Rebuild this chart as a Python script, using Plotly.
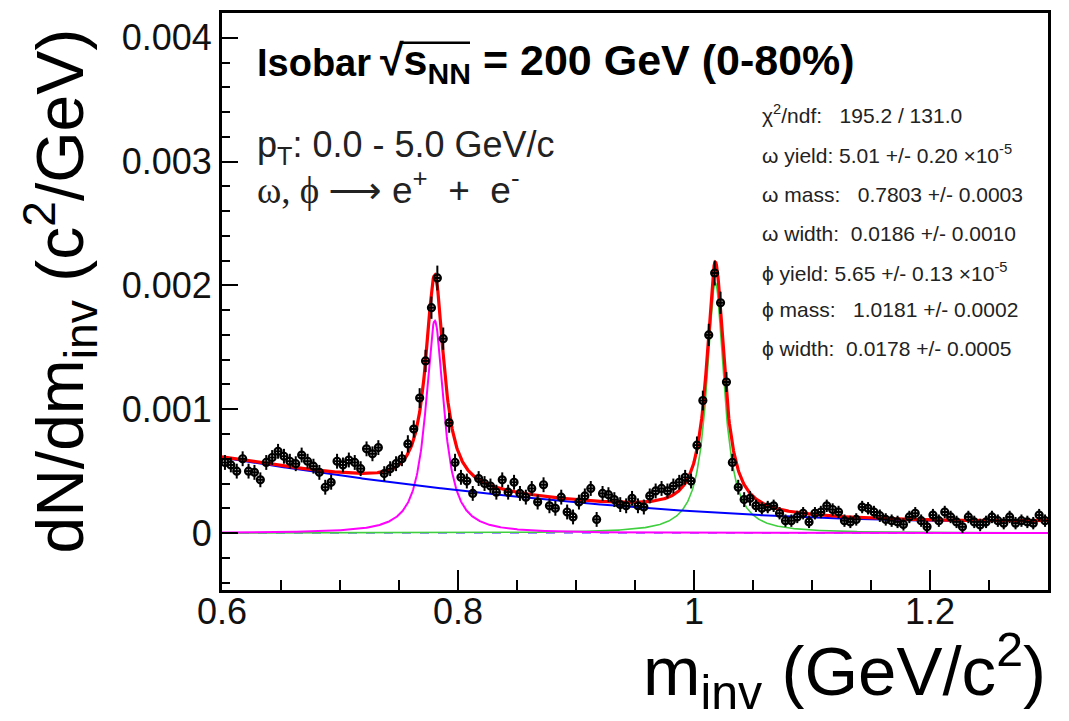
import numpy as np
import plotly.graph_objects as go

# ---------------- data ----------------
bin_low, bin_high, bin_width = 0.6, 1.3, 0.005
m_inv = np.arange(bin_low + bin_width / 2, bin_high, bin_width)

dndm = [
    0.00057, 0.00055, 0.00050, 0.00060, 0.00050, 0.00049, 0.00043, 0.00057, 0.00061, 0.00066,
    0.00062, 0.00058, 0.00056, 0.00063, 0.00058, 0.00054, 0.00049, 0.00037, 0.00041, 0.00058,
    0.00055, 0.00059, 0.00057, 0.00052, 0.00068, 0.00064, 0.00069, 0.00048, 0.00052, 0.00056,
    0.00060, 0.00072, 0.00084, 0.00109, 0.00139, 0.00182, 0.00206, 0.00157, 0.00089, 0.00057,
    0.00045, 0.00042, 0.00032, 0.00044, 0.00040, 0.00038, 0.00033, 0.00043, 0.00033, 0.00041,
    0.00032, 0.00029, 0.00036, 0.00025, 0.00039, 0.00022, 0.00020, 0.00029, 0.00017, 0.00013,
    0.00025, 0.00030, 0.00036, 0.00011, 0.00032, 0.00031, 0.00027, 0.00023, 0.00022, 0.00028,
    0.00022, 0.00021, 0.00030, 0.00034, 0.00036, 0.00034, 0.00038, 0.00041, 0.00045, 0.00042,
    0.00071, 0.00107, 0.00160, 0.00210, 0.00186, 0.00122, 0.00057, 0.00037, 0.00027, 0.00028,
    0.00022, 0.00020, 0.00021, 0.00022, 0.00016, 0.00010, 0.00010, 0.00013, 0.00016, 0.00009,
    0.00016, 0.00017, 0.00022, 0.00019, 0.00017, 0.00010, 0.00009, 0.00011, 0.00021, 0.00020,
    0.00017, 0.00014, 0.00011, 0.00010, 0.00009, 0.00007, 0.00013, 0.00016, 0.00010, 0.00005,
    0.000145, 0.00010, 0.00017, 0.00013, 0.00009, 0.00005, 0.00013, 0.00009, 0.000065, 0.00009,
    0.00013, 0.00010, 0.00008, 0.00013, 0.00008, 0.00010, 0.00009, 0.00008, 0.000145, 0.00010,
]

dndm_err = [
    6e-5, 6e-5, 6e-5, 6e-5, 6e-5, 6e-5, 6e-5, 6e-5, 6e-5, 6e-5,
    6e-5, 6e-5, 6e-5, 6e-5, 6e-5, 6e-5, 6e-5, 6e-5, 6e-5, 6e-5,
    6e-5, 6e-5, 6e-5, 6e-5, 6e-5, 6e-5, 6e-5, 6e-5, 6e-5, 6e-5,
    6e-5, 7e-5, 7e-5, 8e-5, 9e-5, 9e-5, 1e-4, 9e-5, 8e-5, 7e-5,
    6e-5, 6e-5, 6e-5, 6e-5, 6e-5, 6e-5, 6e-5, 6e-5, 6e-5, 6e-5,
    6e-5, 6e-5, 6e-5, 6e-5, 6e-5, 6e-5, 6e-5, 6e-5, 6e-5, 6e-5,
    6e-5, 6e-5, 6e-5, 6e-5, 6e-5, 6e-5, 6e-5, 6e-5, 6e-5, 6e-5,
    6e-5, 6e-5, 6e-5, 6e-5, 6e-5, 6e-5, 6e-5, 6e-5, 6e-5, 6e-5,
    7e-5, 8e-5, 9e-5, 1e-4, 9e-5, 8e-5, 7e-5, 6e-5, 6e-5, 6e-5,
    5e-5, 5e-5, 5e-5, 5e-5, 5e-5, 5e-5, 5e-5, 5e-5, 5e-5, 5e-5,
    5e-5, 5e-5, 5e-5, 5e-5, 5e-5, 5e-5, 5e-5, 5e-5, 5e-5, 5e-5,
    5e-5, 5e-5, 5e-5, 5e-5, 5e-5, 5e-5, 5e-5, 5e-5, 5e-5, 5e-5,
    5e-5, 5e-5, 5e-5, 5e-5, 5e-5, 5e-5, 5e-5, 5e-5, 5e-5, 5e-5,
    5e-5, 5e-5, 5e-5, 5e-5, 5e-5, 5e-5, 5e-5, 5e-5, 5e-5, 5e-5,
]

# fit parameters (from the stat box): yield, mass, width
omega_fit = [5.01e-5, 0.7803, 0.0186]
phi_fit = [5.65e-5, 1.0181, 0.0178]
# residual background polynomial in (m - 0.6): c0, c1, c2
bkg_coeffs = [6.1e-4, -1.564e-3, 1.193e-3]

x_ticks = [0.6, 0.8, 1.0, 1.2]
x_tick_text = ["0.6", "0.8", "1", "1.2"]
y_ticks = [0, 0.001, 0.002, 0.003, 0.004]
y_tick_text = ["0", "0.001", "0.002", "0.003", "0.004"]

stat_lines = [
    "\u03c7<sup>2</sup>/ndf:   195.2 / 131.0",
    "\u03c9 yield: 5.01 +/- 0.20 \u00d710<sup>-5</sup>",
    "\u03c9 mass:   0.7803 +/- 0.0003",
    "\u03c9 width:  0.0186 +/- 0.0010",
    "\u03d5 yield: 5.65 +/- 0.13 \u00d710<sup>-5</sup>",
    "\u03d5 mass:   1.0181 +/- 0.0002",
    "\u03d5 width:  0.0178 +/- 0.0005",
]

# ---------------- fit model curves ----------------
def breit_wigner(m, p):
    y, m0, g = p
    return y / (2 * np.pi) * g / ((m - m0) ** 2 + g ** 2 / 4)

def background(m, c):
    t = m - 0.6
    return c[0] + c[1] * t + c[2] * t ** 2

mf = np.linspace(bin_low, bin_high, 1401)
bw_omega = breit_wigner(mf, omega_fit)
bw_phi = breit_wigner(mf, phi_fit)
bkg = background(mf, bkg_coeffs)
total = bkg + bw_omega + bw_phi

# ---------------- figure ----------------
W, H = 1069, 721
L, R, T, B = 222, 1048, 10, 590
FONT = "Liberation Sans, Arial, Helvetica, sans-serif"
SERIF = "Liberation Serif, DejaVu Serif, serif"

def px(xp):
    return (xp - L) / (R - L)

def py(yp):
    return (B - yp) / (B - T)

fig = go.Figure()

fig.add_trace(go.Scatter(x=[bin_low, bin_high], y=[0, 0], mode="lines",
                         line=dict(color="#9a8cff", width=2, dash="dash"),
                         hoverinfo="skip", showlegend=False))
fig.add_trace(go.Scatter(x=mf, y=bw_phi, mode="lines",
                         line=dict(color="#3fcf3f", width=1.6), showlegend=False))
fig.add_trace(go.Scatter(x=mf, y=bw_omega, mode="lines",
                         line=dict(color="#ff00ff", width=2), showlegend=False))
fig.add_trace(go.Scatter(x=mf, y=bkg, mode="lines",
                         line=dict(color="#0000ff", width=2), showlegend=False))
fig.add_trace(go.Scatter(x=mf, y=total, mode="lines",
                         line=dict(color="#ff0000", width=3.2), showlegend=False))
fig.add_trace(go.Scatter(
    x=m_inv, y=dndm, mode="markers",
    marker=dict(symbol="circle-open", size=7, color="black", line=dict(width=2.2, color="black")),
    error_y=dict(type="data", array=dndm_err, visible=True, color="black", thickness=2, width=0),
    error_x=dict(type="constant", value=bin_width / 2, visible=True, color="black", thickness=2, width=0),
    showlegend=False))

annotations = []
annotations.append(dict(
    x=px(255), y=py(60), xref="paper", yref="paper", xanchor="left", yanchor="middle",
    text="<b>Isobar</b>",
    showarrow=False, font=dict(family=FONT, size=38, color="black")))
annotations.append(dict(
    x=px(378), y=py(60), xref="paper", yref="paper", xanchor="left", yanchor="middle",
    text="<b>\u221as<sub>NN</sub> = 200 GeV (0-80%)</b>",
    showarrow=False, font=dict(family=FONT, size=43, color="black")))
annotations.append(dict(
    x=px(255), y=py(145), xref="paper", yref="paper", xanchor="left", yanchor="middle",
    text="p<sub>T</sub>: 0.0 - 5.0 GeV/c",
    showarrow=False, font=dict(family=FONT, size=36, color="#222")))
annotations.append(dict(
    x=px(255), y=py(186), xref="paper", yref="paper", xanchor="left", yanchor="middle",
    text=("<span style='font-family:" + SERIF + "'>\u03c9, \u03d5 </span>"
          "<span style='font-family:DejaVu Sans'>\u27f6</span> e<sup>+</sup>\u00a0 +\u00a0 e<sup>-</sup>"),
    showarrow=False, font=dict(family=FONT, size=37, color="#222")))

stat_y = [112, 152, 192, 232, 270, 308, 347]
for txt, yy in zip(stat_lines, stat_y):
    annotations.append(dict(
        x=px(760), y=py(yy), xref="paper", yref="paper", xanchor="left", yanchor="middle",
        text=txt, showarrow=False, font=dict(family=FONT, size=21, color="#222")))

annotations.append(dict(
    x=px(60), y=py(290), xref="paper", yref="paper", xanchor="center", yanchor="middle",
    text="dN/dm<sub>inv</sub> (c<sup>2</sup>/GeV)", textangle=-90,
    showarrow=False, font=dict(family=FONT, size=66, color="black")))
annotations.append(dict(
    x=px(1048), y=py(620), xref="paper", yref="paper", xanchor="right", yanchor="top",
    text="m<sub>inv</sub> (GeV/c<sup>2</sup>)",
    showarrow=False, font=dict(family=FONT, size=69, color="black")))

shapes = [dict(type="line", xref="paper", yref="paper",
               x0=px(402), x1=px(470), y0=py(40), y1=py(40),
               line=dict(color="black", width=2.5))]

fig.update_layout(
    width=W, height=H,
    margin=dict(l=L, r=W - R, t=T, b=H - B, pad=0),
    paper_bgcolor="white", plot_bgcolor="white",
    font=dict(family=FONT, color="black"),
    annotations=annotations, shapes=shapes,
    showlegend=False,
)
fig.update_xaxes(
    range=[bin_low, bin_high], tickvals=x_ticks, ticktext=x_tick_text,
    ticks="inside", ticklen=20, tickwidth=2, tickcolor="black",
    minor=dict(dtick=0.05, tick0=0.6, ticks="inside", ticklen=10, tickwidth=2, tickcolor="black"),
    showline=True, linewidth=3, linecolor="black", mirror=True,
    showgrid=False, zeroline=False, ticklabelstandoff=-12,
    tickfont=dict(family=FONT, size=36, color="#111"),
)
fig.update_yaxes(
    range=[-0.00046, 0.0042], tickvals=y_ticks, ticktext=y_tick_text,
    ticks="inside", ticklen=16, tickwidth=2, tickcolor="black",
    minor=dict(dtick=0.0002, tick0=0, ticks="inside", ticklen=8, tickwidth=2, tickcolor="black"),
    showline=True, linewidth=3, linecolor="black", mirror=True,
    showgrid=False, zeroline=False,
    tickfont=dict(family=FONT, size=36, color="#111"),
)

fig.write_html("out.html")
